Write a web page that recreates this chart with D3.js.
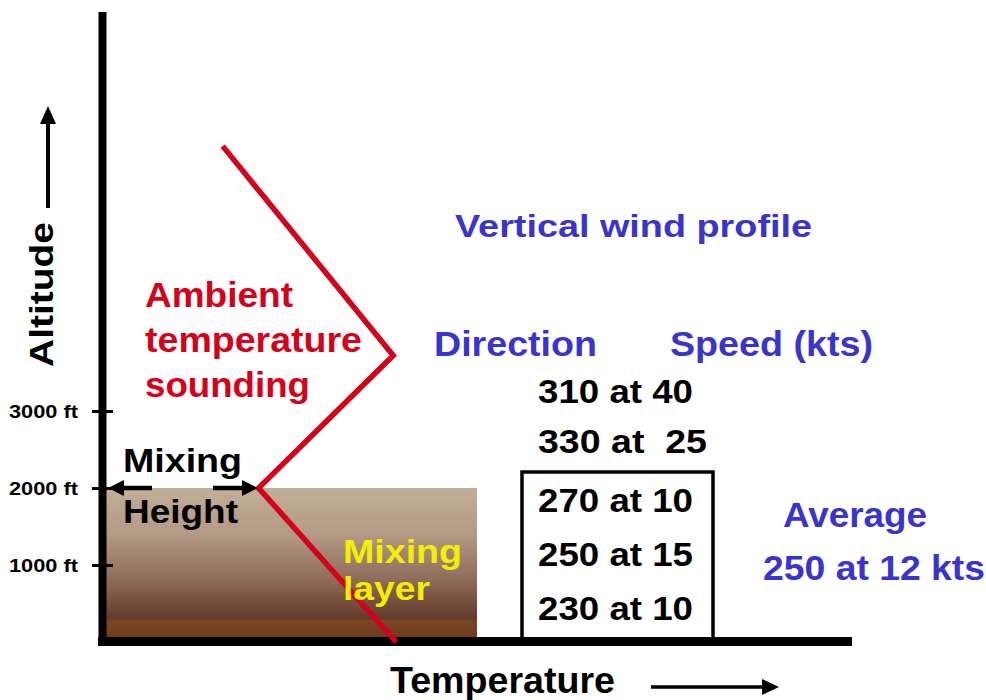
<!DOCTYPE html>
<html>
<head>
<meta charset="utf-8">
<script src="https://cdn.jsdelivr.net/npm/d3@7"></script>
<style>
  html, body { margin: 0; padding: 0; background: #ffffff; }
  svg { display: block; }
  text { font-family: Arial, "Liberation Sans", sans-serif; font-weight: bold; white-space: pre; }
</style>
</head>
<body>
<svg id="chart" width="986" height="700"></svg>
<script>
// ---------- data ----------
const altitudeTicks = [1000, 2000, 3000];
const altitudeTickLabels = ["1000 ft", "2000 ft", "3000 ft"];
// ambient temperature sounding (temperature in arbitrary units, altitude in ft)
const soundingTemp = [16, 38.8, 20.8, 39.2];
const soundingAlt = [6440, 3720, 2000, 0];
const mixingHeight = 2000;
const mixingLayerTempExtent = [0, 50];
// vertical wind profile (top to bottom)
const windDirection = [310, 330, 270, 250, 230];
const windSpeed = [40, 25, 10, 15, 10];
const windSpeedGap = ["", " ", "", "", ""];
const inMixingLayer = [false, false, true, true, true];
const averageDirection = 250;
const averageSpeed = 12;

// ---------- scales ----------
const svg = d3.select("#chart");
const x = d3.scaleLinear().domain([0, 100]).range([103, 851]);
const y = d3.scaleLinear().domain([0, 3000]).range([642, 411]);

const RED = "#d5001a", BLUE = "#3a34cc", YELLOW = "#f4ee00";

function label(txt, tx, ty, size, len, color) {
  const t = svg.append("text")
    .attr("x", tx).attr("y", ty)
    .attr("font-size", size)
    .attr("fill", color || "#000")
    .text(txt);
  if (len) t.attr("textLength", len).attr("lengthAdjust", "spacingAndGlyphs");
  return t;
}

// ---------- mixing layer ----------
const defs = svg.append("defs");
const grad = defs.append("linearGradient").attr("id", "mix").attr("x1", 0).attr("y1", 0).attr("x2", 0).attr("y2", 1);
[[0, "#c2ae98"], [0.3, "#b39a84"], [0.6, "#8e6b58"], [0.85, "#633a2a"], [0.86, "#7a4524"], [1, "#6b3818"]]
  .forEach(([o, c]) => grad.append("stop").attr("offset", o).attr("stop-color", c));
svg.append("rect")
  .attr("x", x(mixingLayerTempExtent[0]))
  .attr("y", y(mixingHeight))
  .attr("width", x(mixingLayerTempExtent[1]) - x(mixingLayerTempExtent[0]))
  .attr("height", y(0) - y(mixingHeight))
  .attr("fill", "url(#mix)");

// ---------- wind box ----------
svg.append("rect")
  .attr("x", 522).attr("y", 472)
  .attr("width", 191).attr("height", y(0) - 472)
  .attr("fill", "none").attr("stroke", "#000").attr("stroke-width", 3.5);

// ---------- axes ----------
svg.append("line").attr("x1", 102.5).attr("x2", 102.5).attr("y1", 12).attr("y2", 646)
  .attr("stroke", "#000").attr("stroke-width", 8);
svg.append("line").attr("x1", 98).attr("x2", 852).attr("y1", 641.5).attr("y2", 641.5)
  .attr("stroke", "#000").attr("stroke-width", 9);

const yAxis = d3.axisLeft(y)
  .tickValues(altitudeTicks)
  .tickFormat((d, i) => altitudeTickLabels[i])
  .tickSize(21)
  .tickPadding(14);
const gy = svg.append("g").attr("transform", "translate(113,0)").call(yAxis);
gy.select(".domain").remove();
gy.selectAll(".tick line").attr("stroke", "#000").attr("stroke-width", 3);
gy.selectAll(".tick text")
  .attr("font-size", 19).attr("font-family", "Arial, 'Liberation Sans', sans-serif")
  .attr("font-weight", "bold").attr("fill", "#000")
  .attr("dy", "0.35em")
  .attr("textLength", 69).attr("lengthAdjust", "spacingAndGlyphs");

// axis titles
svg.append("text")
  .attr("transform", "translate(53,367) rotate(-90)")
  .attr("font-size", 33).attr("fill", "#000")
  .attr("textLength", 145).attr("lengthAdjust", "spacingAndGlyphs")
  .text("Altitude");
svg.append("line").attr("x1", 48).attr("x2", 48).attr("y1", 208).attr("y2", 122)
  .attr("stroke", "#000").attr("stroke-width", 4);
svg.append("path").attr("d", "M48,106 L40,124 L56,124 Z").attr("fill", "#000");

label("Temperature", 390, 693, 37, 225);
svg.append("line").attr("x1", 651).attr("x2", 764).attr("y1", 687).attr("y2", 687)
  .attr("stroke", "#000").attr("stroke-width", 3.5);
svg.append("path").attr("d", "M779,687 L762,679 L762,695 Z").attr("fill", "#000");

// ---------- sounding line ----------
const line = d3.line().x((d, i) => x(soundingTemp[i])).y((d, i) => y(soundingAlt[i]));
svg.append("path")
  .attr("d", line(soundingTemp))
  .attr("fill", "none").attr("stroke", RED).attr("stroke-width", 5.5)
  .attr("stroke-linejoin", "miter");

// ---------- mixing height arrows ----------
const mhY = y(mixingHeight);
svg.append("line").attr("x1", 120).attr("x2", 152).attr("y1", mhY).attr("y2", mhY)
  .attr("stroke", "#000").attr("stroke-width", 4.5);
svg.append("path").attr("d", `M108,${mhY} L124,${mhY - 8} L124,${mhY + 8} Z`).attr("fill", "#000");
svg.append("line").attr("x1", 213).attr("x2", 245).attr("y1", mhY).attr("y2", mhY)
  .attr("stroke", "#000").attr("stroke-width", 4.5);
svg.append("path").attr("d", `M258,${mhY} L242,${mhY - 8} L242,${mhY + 8} Z`).attr("fill", "#000");

label("Mixing", 123, 472, 34, 119);
label("Height", 123, 523, 34, 115);
label("Mixing", 343, 563, 34, 119, YELLOW);
label("layer", 343, 600, 34, 87, YELLOW);

label("Ambient", 145, 307, 35, 148, RED);
label("temperature", 145, 352, 35, 217, RED);
label("sounding", 145, 397, 35, 165, RED);

// ---------- wind profile ----------
label("Vertical wind profile", 455, 237, 32, 357, BLUE);
label("Direction", 434, 356, 35, 163, BLUE);
label("Speed (kts)", 670, 356, 35, 203, BLUE);

const rowBase = [403, 453, 512, 566, 620];
windDirection.forEach((dir, i) => {
  const txt = `${dir} at ${windSpeedGap[i]}${windSpeed[i]}`;
  const len = windSpeedGap[i] ? 169 : 155;
  label(txt, 538, rowBase[i], 33, len, "#000");
});

label("Average", 783, 527, 35, 144, BLUE);
label(`${averageDirection} at ${averageSpeed} kts`, 763, 580, 35, 222, BLUE);
</script>
</body>
</html>
